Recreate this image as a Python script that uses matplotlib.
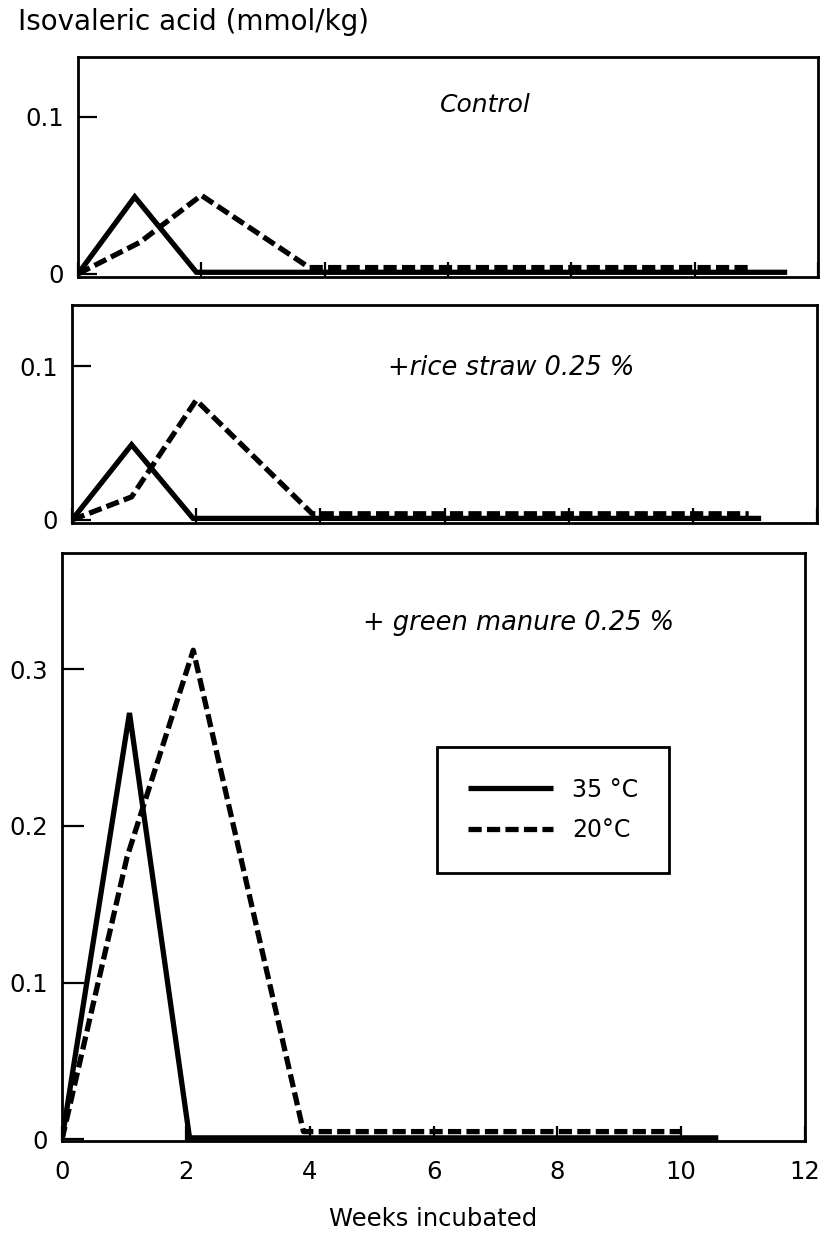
import matplotlib
matplotlib.use("Agg")
from matplotlib import pyplot as plt
from matplotlib.ticker import FixedLocator, NullFormatter

plt.rcParams['font.family'] = ['DejaVu Sans']

# Valores (semanas, mmol/kg)
weeks_35_ctrl = [0, 0.92, 1.92, 4, 6, 8, 10, 11.5]
iso_35_ctrl = [0, 0.049, 0.001, 0.001, 0.001, 0.001, 0.001, 0.001]
weeks_20_ctrl = [0, 1.0, 2.0, 3.75, 6, 8, 10, 10.9]
iso_20_ctrl = [0, 0.020, 0.050, 0.004, 0.004, 0.004, 0.004, 0.004]

weeks_35_rice = [0, 0.96, 1.95, 4, 6, 8, 10, 11.1]
iso_35_rice = [0, 0.049, 0.001, 0.001, 0.001, 0.001, 0.001, 0.001]
weeks_20_rice = [0, 0.96, 2.0, 3.87, 6, 8, 10, 10.9]
iso_20_rice = [0, 0.015, 0.078, 0.004, 0.004, 0.004, 0.004, 0.004]

weeks_35_green = [0, 1.09, 2.06, 4, 6, 8, 10, 10.6]
iso_35_green = [0, 0.272, 0.001, 0.001, 0.001, 0.001, 0.001, 0.001]
weeks_20_green = [0, 1.05, 2.12, 3.9, 6, 8, 10.0]
iso_20_green = [0, 0.180, 0.312, 0.005, 0.005, 0.005, 0.005]

x_ticks = [0, 2, 4, 6, 8, 10, 12]
y_ticks_small = [0, 0.1]
y_labels_small = ['0', '0.1']
y_ticks_big = [0, 0.1, 0.2, 0.3]
y_labels_big = ['0', '0.1', '0.2', '0.3']

panel_labels = ['Control', '+rice straw 0.25 %', '+ green manure 0.25 %']
legend_labels = ['35 °C', '20°C']

LW = 3.8
DASH = (2.5, 1.0)


def desenha_painel(ax, x35, y35, x20, y20, ylim, yticks, ylabels, ytick_len):
    ax.plot(x35, y35, color='black', lw=LW, solid_joinstyle='miter',
            solid_capstyle='butt', label=legend_labels[0])
    linha, = ax.plot(x20, y20, color='black', lw=LW, dash_capstyle='butt',
                     label=legend_labels[1])
    linha.set_dashes(DASH)
    ax.set_xlim(0, 12)
    ax.set_ylim(ylim)
    for s in ax.spines.values():
        s.set_linewidth(2.0)
    ax.xaxis.set_major_locator(FixedLocator(x_ticks))
    ax.yaxis.set_major_locator(FixedLocator(yticks))
    ax.set_yticklabels(ylabels)
    ax.tick_params(axis='y', direction='in', length=ytick_len, width=1.6,
                   labelsize=17.5, pad=10)
    ax.tick_params(axis='x', direction='in', length=11, width=1.6,
                   labelsize=17.5, pad=14)


fig = plt.figure(figsize=(8.3, 12.38), dpi=100)

ax1 = fig.add_axes([78 / 830, 1 - 277 / 1238, 740 / 830, 220 / 1238])
ax2 = fig.add_axes([72 / 830, 1 - 523 / 1238, 745 / 830, 218 / 1238])
ax3 = fig.add_axes([62 / 830, 1 - 1141 / 1238, 743 / 830, 588 / 1238])

desenha_painel(ax1, weeks_35_ctrl, iso_35_ctrl, weeks_20_ctrl, iso_20_ctrl,
               (-0.002, 0.138), y_ticks_small, y_labels_small, 14)
desenha_painel(ax2, weeks_35_rice, iso_35_rice, weeks_20_rice, iso_20_rice,
               (-0.002, 0.140), y_ticks_small, y_labels_small, 14)
desenha_painel(ax3, weeks_35_green, iso_35_green, weeks_20_green, iso_20_green,
               (-0.001, 0.374), y_ticks_big, y_labels_big, 16)

ax1.xaxis.set_major_formatter(NullFormatter())
ax2.xaxis.set_major_formatter(NullFormatter())
ax3.set_xticklabels([str(t) for t in x_ticks])

ax1.text(0.55, 0.78, panel_labels[0], transform=ax1.transAxes,
         ha='center', va='center', fontsize=18, style='italic')
ax2.text(0.59, 0.71, panel_labels[1], transform=ax2.transAxes,
         ha='center', va='center', fontsize=18.5, style='italic')
ax3.text(0.614, 0.881, panel_labels[2], transform=ax3.transAxes,
         ha='center', va='center', fontsize=18.5, style='italic')

ax3.set_xlabel('Weeks incubated', fontsize=17.5, labelpad=16)

fig.text(18 / 830, 1 - 22 / 1238, 'Isovaleric acid (mmol/kg)',
         ha='left', va='center', fontsize=20)

leg = ax3.legend(loc='upper left', bbox_to_anchor=(0.505, 0.67),
                 fontsize=17, frameon=True, fancybox=False, shadow=False,
                 framealpha=1, handlelength=3.6, handletextpad=0.8,
                 borderpad=1.3, labelspacing=0.7, borderaxespad=0)
leg.get_frame().set_edgecolor('black')
leg.get_frame().set_linewidth(2.0)

fig.savefig('out.png', dpi=100)
